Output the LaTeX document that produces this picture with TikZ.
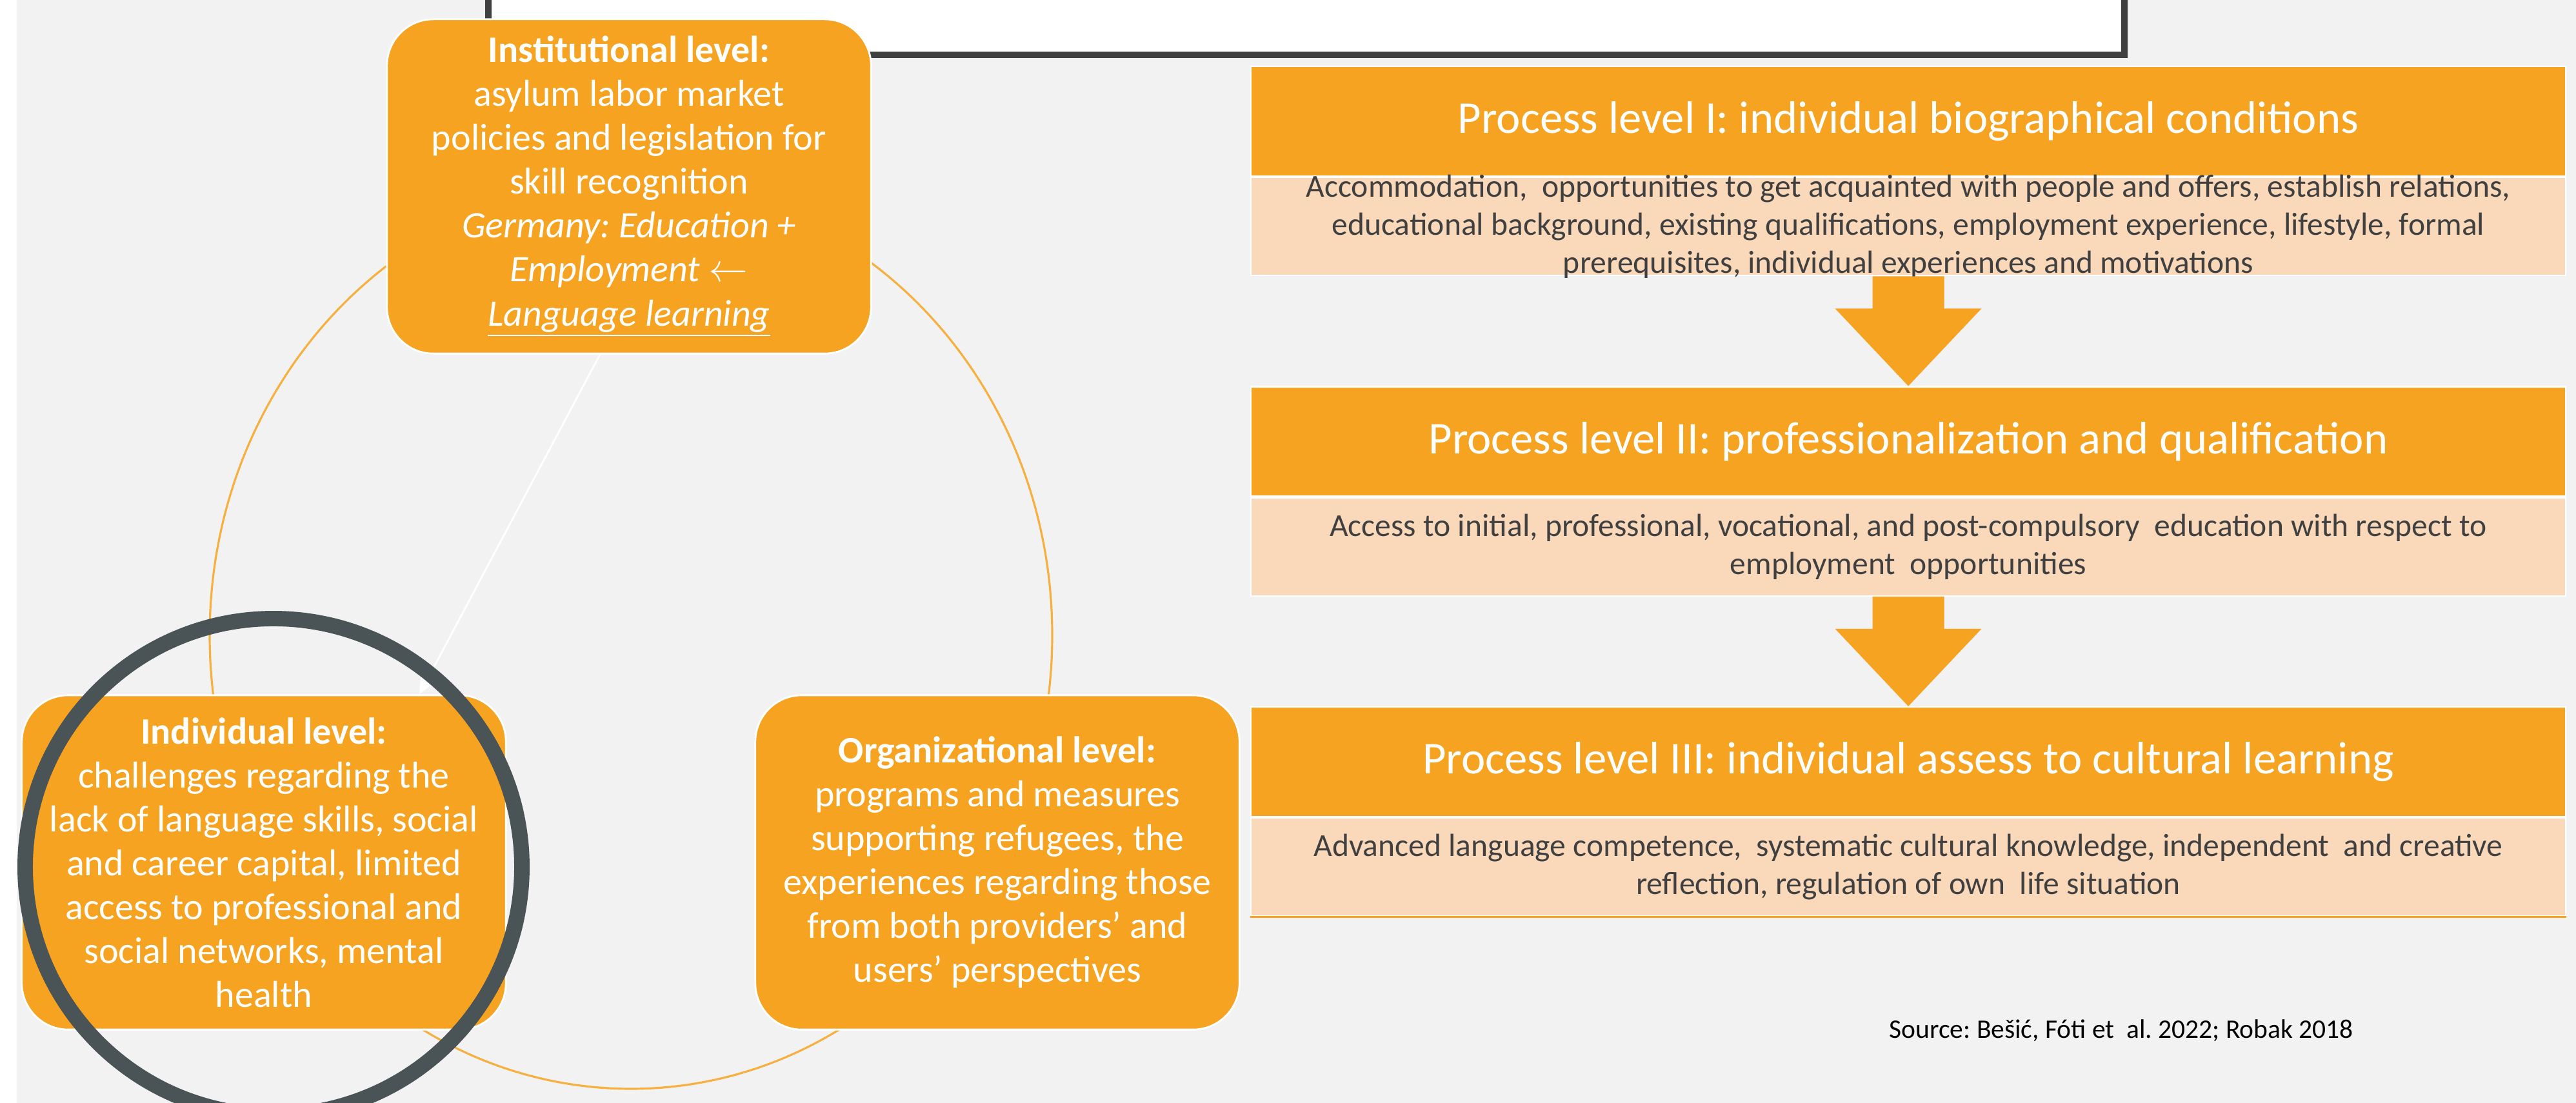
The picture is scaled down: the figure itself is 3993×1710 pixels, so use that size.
\documentclass[tikz,border=0pt]{standalone}
\usepackage{fontspec}
\setmainfont{Carlito}
\usetikzlibrary{positioning,calc,arrows.meta}
\definecolor{boxorange}{HTML}{F5A320}
\definecolor{peach}{HTML}{FAD8BA}
\definecolor{slidegray}{HTML}{F2F2F2}
\definecolor{ringgray}{HTML}{4A5356}
\definecolor{frameline}{HTML}{404040}
\definecolor{textgray}{HTML}{404040}
\definecolor{cycleline}{HTML}{F5B040}
\frenchspacing

\begin{document}
\begin{tikzpicture}[x=0.01cm, y=-0.01cm,
  levelbox/.style={fill=boxorange, draw=white, line width=0.8pt, rounded corners=0.72cm,
    minimum width=7.5cm, minimum height=5.18cm, align=center, text=white, inner sep=0pt,
    font=\fontsize{16.5}{19.35}\selectfont},
  headbox/.style={fill=boxorange, draw=white, line width=0.6pt, minimum width=20.36cm,
    minimum height=1.7cm, text=white, inner sep=0pt, font=\fontsize{20.1}{24}\selectfont},
  bodybox/.style={fill=peach, draw=white, line width=0.6pt, minimum width=20.36cm,
    minimum height=1.52cm, text=textgray, align=center, inner xsep=0pt, inner ysep=-0.6cm,
    font=\fontsize{14.1}{16.8}\selectfont}]
  \useasboundingbox (0,0) rectangle (3993,1710);
  \fill[white] (0,0) rectangle (3993,1710);
  \fill[slidegray] (26,0) rectangle (3993,1710);
  \draw[frameline, fill=white, line width=2.6pt] (757,-30) rectangle (3293,85);
  \draw[cycleline, line width=0.9pt] (978,985) ellipse [x radius=653, y radius=703];

  \node[levelbox] (inst) at (975,289) {\textbf{Institutional level:}\\ asylum labor market\\
    policies and legislation for\\ skill recognition\\ \textit{Germany: Education +}\\
    \textit{Employment $\leftarrow$}\\ \textit{\underline{Language learning}}};
  \node[levelbox] (indiv) at (409,1337) {\textbf{Individual level:}\\ challenges regarding the\\
    lack of language skills, social\\ and career capital, limited\\ access to professional and\\
    social networks, mental\\ health};
  \node[levelbox] (org) at (1546,1337) {\textbf{Organizational level:}\\ programs and measures\\
    supporting refugees, the\\ experiences regarding those\\ from both providers’ and\\
    users’ perspectives};
  \draw[white, line width=0.8pt, -{Triangle[length=0.3cm, width=0.26cm]}]
    ([xshift=-0.45cm]inst.south) -- ([xshift=2.41cm]indiv.north);
  \draw[ringgray, line width=6.8pt] (424,1344) circle [radius=385];

  \node[headbox] (p1h) at (2958,188) {Process level I: individual biographical conditions};
  \node[bodybox, below=0pt of p1h] (p1b) {Accommodation,\ \ opportunities to get acquainted with people and offers, establish relations,\\
    educational background, existing qualifications, employment experience, lifestyle, formal\\
    prerequisites, individual experiences and motivations};
  \node[headbox, below=1.7cm of p1b] (p2h) {Process level II: professionalization and qualification};
  \node[bodybox, below=0pt of p2h] (p2b) {Access to initial, professional, vocational, and post-compulsory\ \ education with respect to\\
    employment\ \ opportunities};
  \node[headbox, below=1.7cm of p2b] (p3h) {Process level III: individual assess to cultural learning};
  \node[bodybox, below=0pt of p3h] (p3b) {Advanced language competence,\ \ systematic cultural knowledge, independent\ \ and creative\\
    reflection, regulation of own\ \ life situation};
  \draw[boxorange, line width=0.8pt] (p3b.south west) -- (p3b.south east);
  \foreach \from/\to in {p1b/p2h, p2b/p3h}
    \fill[boxorange] ([xshift=-0.555cm]\from.south) -- ([xshift=0.555cm]\from.south)
      -- ($(\from.south)+(55.5,50)$) -- ($(\from.south)+(113.5,50)$) -- (\to.north)
      -- ($(\from.south)+(-113.5,50)$) -- ($(\from.south)+(-55.5,50)$) -- cycle;

  \node[anchor=west, inner sep=0pt, font=\fontsize{11.8}{14}\selectfont] (source) at (2928,1598)
    {Source: Bešić, Fóti et\ \ al. 2022; Robak 2018};
\end{tikzpicture}
\end{document}
